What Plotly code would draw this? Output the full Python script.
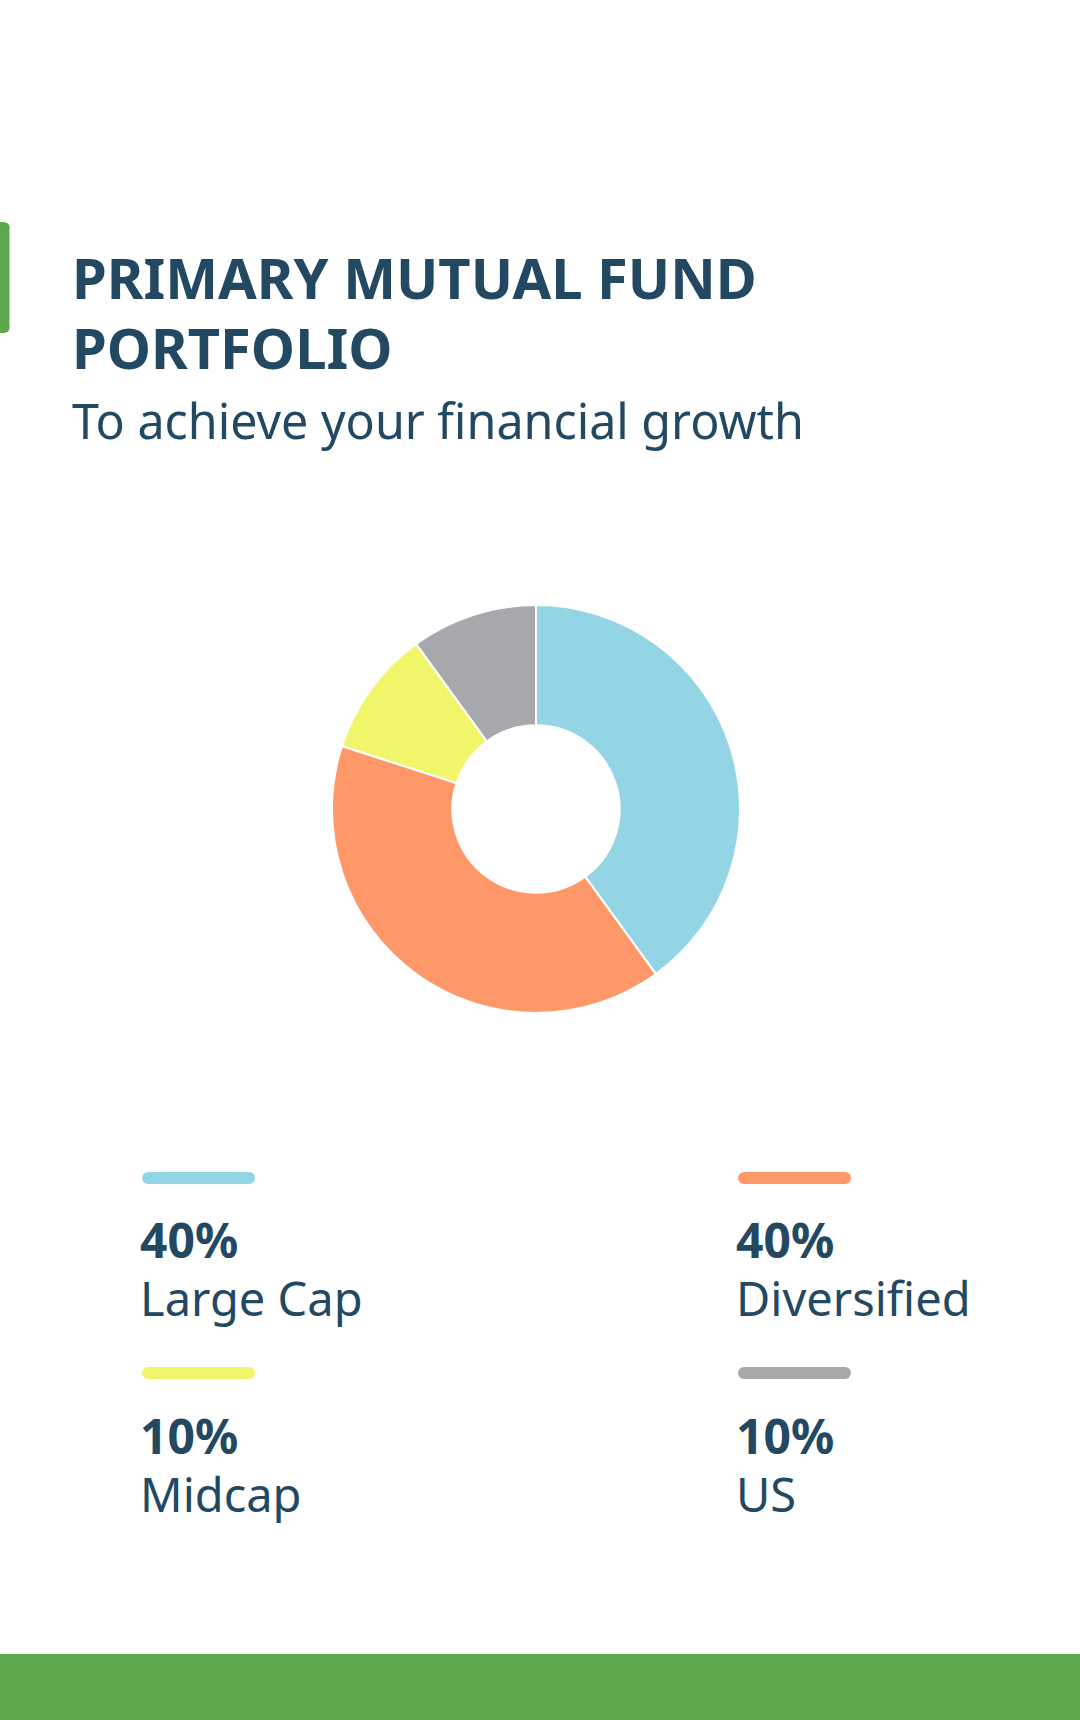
import plotly.graph_objects as go

# ---- data ----
categories = ["Large Cap", "Diversified", "Midcap", "US"]
values = [40, 40, 10, 10]
pct_labels = ["40%", "40%", "10%", "10%"]
colors = ["#94d5e5", "#ff9869", "#f1f56a", "#a7a8ab"]

title_lines = ["PRIMARY MUTUAL FUND", "PORTFOLIO"]
subtitle = "To achieve your financial growth"

W, H = 1080, 1720
TEXT = "#234862"
GREEN = "#5da84b"
FONT = "Noto Sans"


def px(x):
    return x / W


def py(y):
    return 1 - y / H


fig = go.Figure()

# donut: centre (536, 809), radius 204
cx, cy, r = 536, 809, 204
fig.add_trace(go.Pie(
    labels=categories,
    values=values,
    marker=dict(colors=colors, line=dict(color="white", width=2)),
    hole=0.41,
    sort=False,
    direction="clockwise",
    rotation=0,
    textinfo="none",
    hoverinfo="label+percent",
    showlegend=False,
    domain=dict(x=[px(cx - r), px(cx + r)], y=[py(cy + r), py(cy - r)]),
))

annotations = []


def add_block(lines, x, baseline1, base_size, sizes, bolds):
    """Multi-line text block; line spacing = 1.3 * base_size."""
    parts = []
    for t, s, b in zip(lines, sizes, bolds):
        inner = f"<b>{t}</b>" if b else t
        parts.append(f"<span style='font-size:{s}px'>{inner}</span>")
    top = baseline1 - 1.07 * max(sizes) - 1
    annotations.append(dict(
        text="<br>".join(parts),
        x=px(x), y=py(top),
        xref="paper", yref="paper",
        xanchor="left", yanchor="top", align="left",
        showarrow=False,
        font=dict(family=FONT, size=base_size, color=TEXT),
    ))


# title (baselines 298 / 368) + subtitle (baseline 438)
add_block(title_lines, 70, 298, 70 / 1.3, [56, 56], [True, True])
add_block([subtitle], 70, 438, 48.4, [48.4], [False])

shapes = []


def pill(x0, x1, yc, h, color):
    rr = h / 2
    shapes.append(dict(type="rect", xref="paper", yref="paper",
                       x0=px(x0 + rr), x1=px(x1 - rr), y0=py(yc + rr), y1=py(yc - rr),
                       fillcolor=color, line=dict(width=0), layer="above"))
    for xc in (x0 + rr, x1 - rr):
        shapes.append(dict(type="circle", xref="paper", yref="paper",
                           xsizemode="pixel", ysizemode="pixel",
                           xanchor=px(xc), yanchor=py(yc),
                           x0=-rr, x1=rr, y0=-rr, y1=rr,
                           fillcolor=color, line=dict(width=0), layer="above"))


# legend blocks
cols = [142, 738]
rows = [(1178, 1257), (1373, 1453)]
for i, (cat, pct, col) in enumerate(zip(categories, pct_labels, colors)):
    c = cols[i % 2]
    sw, pb = rows[i // 2]
    pill(c, c + 113, sw, 12, col)
    add_block([pct, cat], c - 4, pb, 58 / 1.3, [48, 47], [True, False])

# green accent bar on left
shapes.append(dict(type="rect", xref="paper", yref="paper",
                   x0=px(-6), x1=px(9.5), y0=py(328), y1=py(227),
                   fillcolor=GREEN, line=dict(width=0)))
shapes.append(dict(type="rect", xref="paper", yref="paper",
                   x0=px(-6), x1=px(5), y0=py(333), y1=py(222),
                   fillcolor=GREEN, line=dict(width=0)))
for yc in (227, 328):
    shapes.append(dict(type="circle", xref="paper", yref="paper",
                       xsizemode="pixel", ysizemode="pixel",
                       xanchor=px(5), yanchor=py(yc),
                       x0=-4.5, x1=4.5, y0=-4.5, y1=4.5,
                       fillcolor=GREEN, line=dict(width=0)))

# green footer band
shapes.append(dict(type="rect", xref="paper", yref="paper",
                   x0=0, x1=1, y0=0, y1=py(1654),
                   fillcolor=GREEN, line=dict(width=0)))

fig.update_layout(
    width=W, height=H,
    margin=dict(l=0, r=0, t=0, b=0),
    paper_bgcolor="white",
    plot_bgcolor="white",
    annotations=annotations,
    shapes=shapes,
    showlegend=False,
)

fig.write_html(
    "out.html",
    config={"displayModeBar": False},
    post_script="document.body.style.margin='0';document.body.style.overflow='hidden';",
)
